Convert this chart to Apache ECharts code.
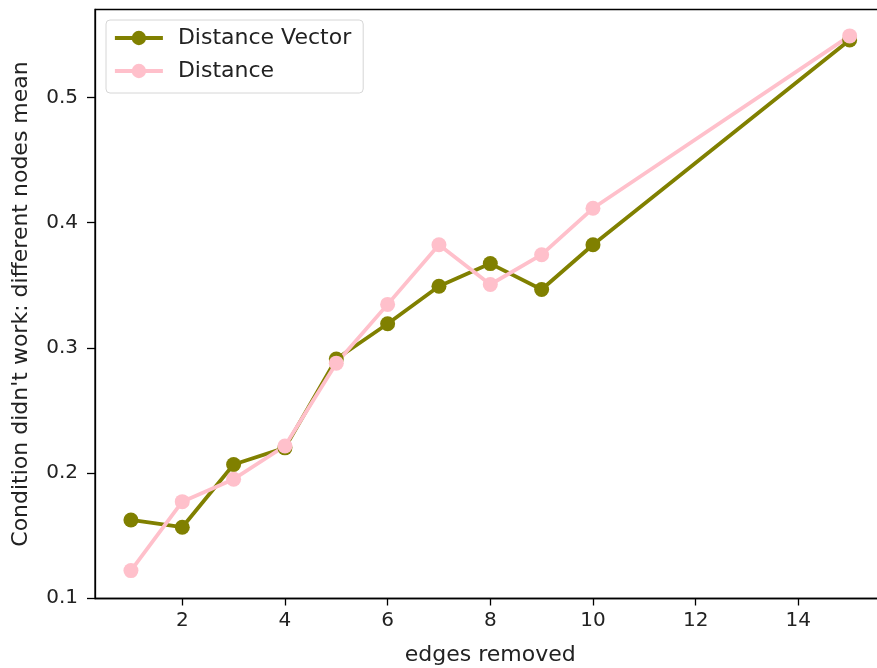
<!DOCTYPE html>
<html lang="en">
<head>
    <meta charset="UTF-8">
    <title>edges removed</title>
    <script src="https://cdn.jsdelivr.net/npm/echarts@6/dist/echarts.min.js"></script>
    <style>
        html, body { margin: 0; padding: 0; background: #fff; }
        #chart { width: 877px; height: 668px; }
    </style>
</head>
<body>
    <div id="chart"></div>
    <script>
        // edges removed
        var x_vals = [1, 2, 3, 4, 5, 6, 7, 8, 9, 10, 15];
        var dist_vector = [0.1624, 0.1566, 0.2067, 0.2200, 0.2910, 0.3192, 0.3492, 0.3673, 0.3466, 0.3824, 0.5460];
        var dist = [0.1219, 0.1770, 0.1950, 0.2215, 0.2877, 0.3347, 0.3824, 0.3506, 0.3744, 0.4115, 0.5493];
        var x_ticks = [2, 4, 6, 8, 10, 12, 14];
        var y_ticks = [0.1, 0.2, 0.3, 0.4, 0.5];

        function pairs (xs, ys) {
            var out = [];
            for (var i = 0; i < xs.length; i++) {
                out.push([xs[i], ys[i]]);
            }
            return out;
        }

        var font = 'DejaVu Sans';
        var myChart = echarts.init(document.getElementById('chart'), null, { renderer: 'canvas' });

        var option = {
            animation: false,
            grid: {
                left: 95, top: 9.5, right: -8.6, bottom: 69.5,
                outerBoundsMode: 'none',
                containLabel: false,
                show: true, borderColor: '#000', borderWidth: 1.3, backgroundColor: 'transparent'
            },
            legend: {
                orient: 'vertical',
                left: 106, top: 20,
                padding: [7, 12, 11, 7],
                itemWidth: 48, itemHeight: 18, itemGap: 11,
                backgroundColor: '#fff',
                borderColor: '#d6d6d6', borderWidth: 1, borderRadius: 4,
                lineStyle: { width: 3.8 },
                textStyle: { fontFamily: font, fontSize: 22, color: '#222', padding: [0, 0, 0, 10] },
                data: ['Distance Vector', 'Distance']
            },
            xAxis: {
                type: 'value',
                min: 0.3, max: 15.7,
                name: 'edges removed',
                nameLocation: 'middle',
                nameGap: 46,
                nameTextStyle: { fontFamily: font, fontSize: 22, color: '#222' },
                splitLine: { show: false },
                axisLine: { onZero: false, lineStyle: { color: '#000', width: 1.3 } },
                axisTick: { customValues: x_ticks, length: 7, lineStyle: { color: '#000', width: 1.3 } },
                axisLabel: {
                    customValues: x_ticks, margin: 12,
                    fontFamily: font, fontSize: 20, color: '#222'
                }
            },
            yAxis: {
                type: 'value',
                min: 0.0996, max: 0.5704,
                name: "Condition didn't work: different nodes mean",
                nameLocation: 'middle',
                nameGap: 63,
                nameTextStyle: { fontFamily: font, fontSize: 22, color: '#222' },
                splitLine: { show: false },
                axisLine: { show: true, onZero: false, lineStyle: { color: '#000', width: 1.3 } },
                axisTick: { show: true, customValues: y_ticks, length: 8, lineStyle: { color: '#000', width: 1.3 } },
                axisLabel: {
                    customValues: y_ticks, margin: 17,
                    fontFamily: font, fontSize: 20, color: '#222',
                    formatter: function (v) { return v.toFixed(1); }
                }
            },
            series: [{
                name: 'Distance Vector',
                type: 'line',
                data: pairs(x_vals, dist_vector),
                color: '#808000',
                symbol: 'circle', symbolSize: 15,
                lineStyle: { width: 3.8, color: '#808000' },
                itemStyle: { color: '#808000' }
            }, {
                name: 'Distance',
                type: 'line',
                data: pairs(x_vals, dist),
                color: '#ffc0cb',
                symbol: 'circle', symbolSize: 15,
                lineStyle: { width: 3.8, color: '#ffc0cb' },
                itemStyle: { color: '#ffc0cb' }
            }]
        };
        myChart.setOption(option);
    </script>
</body>
</html>
